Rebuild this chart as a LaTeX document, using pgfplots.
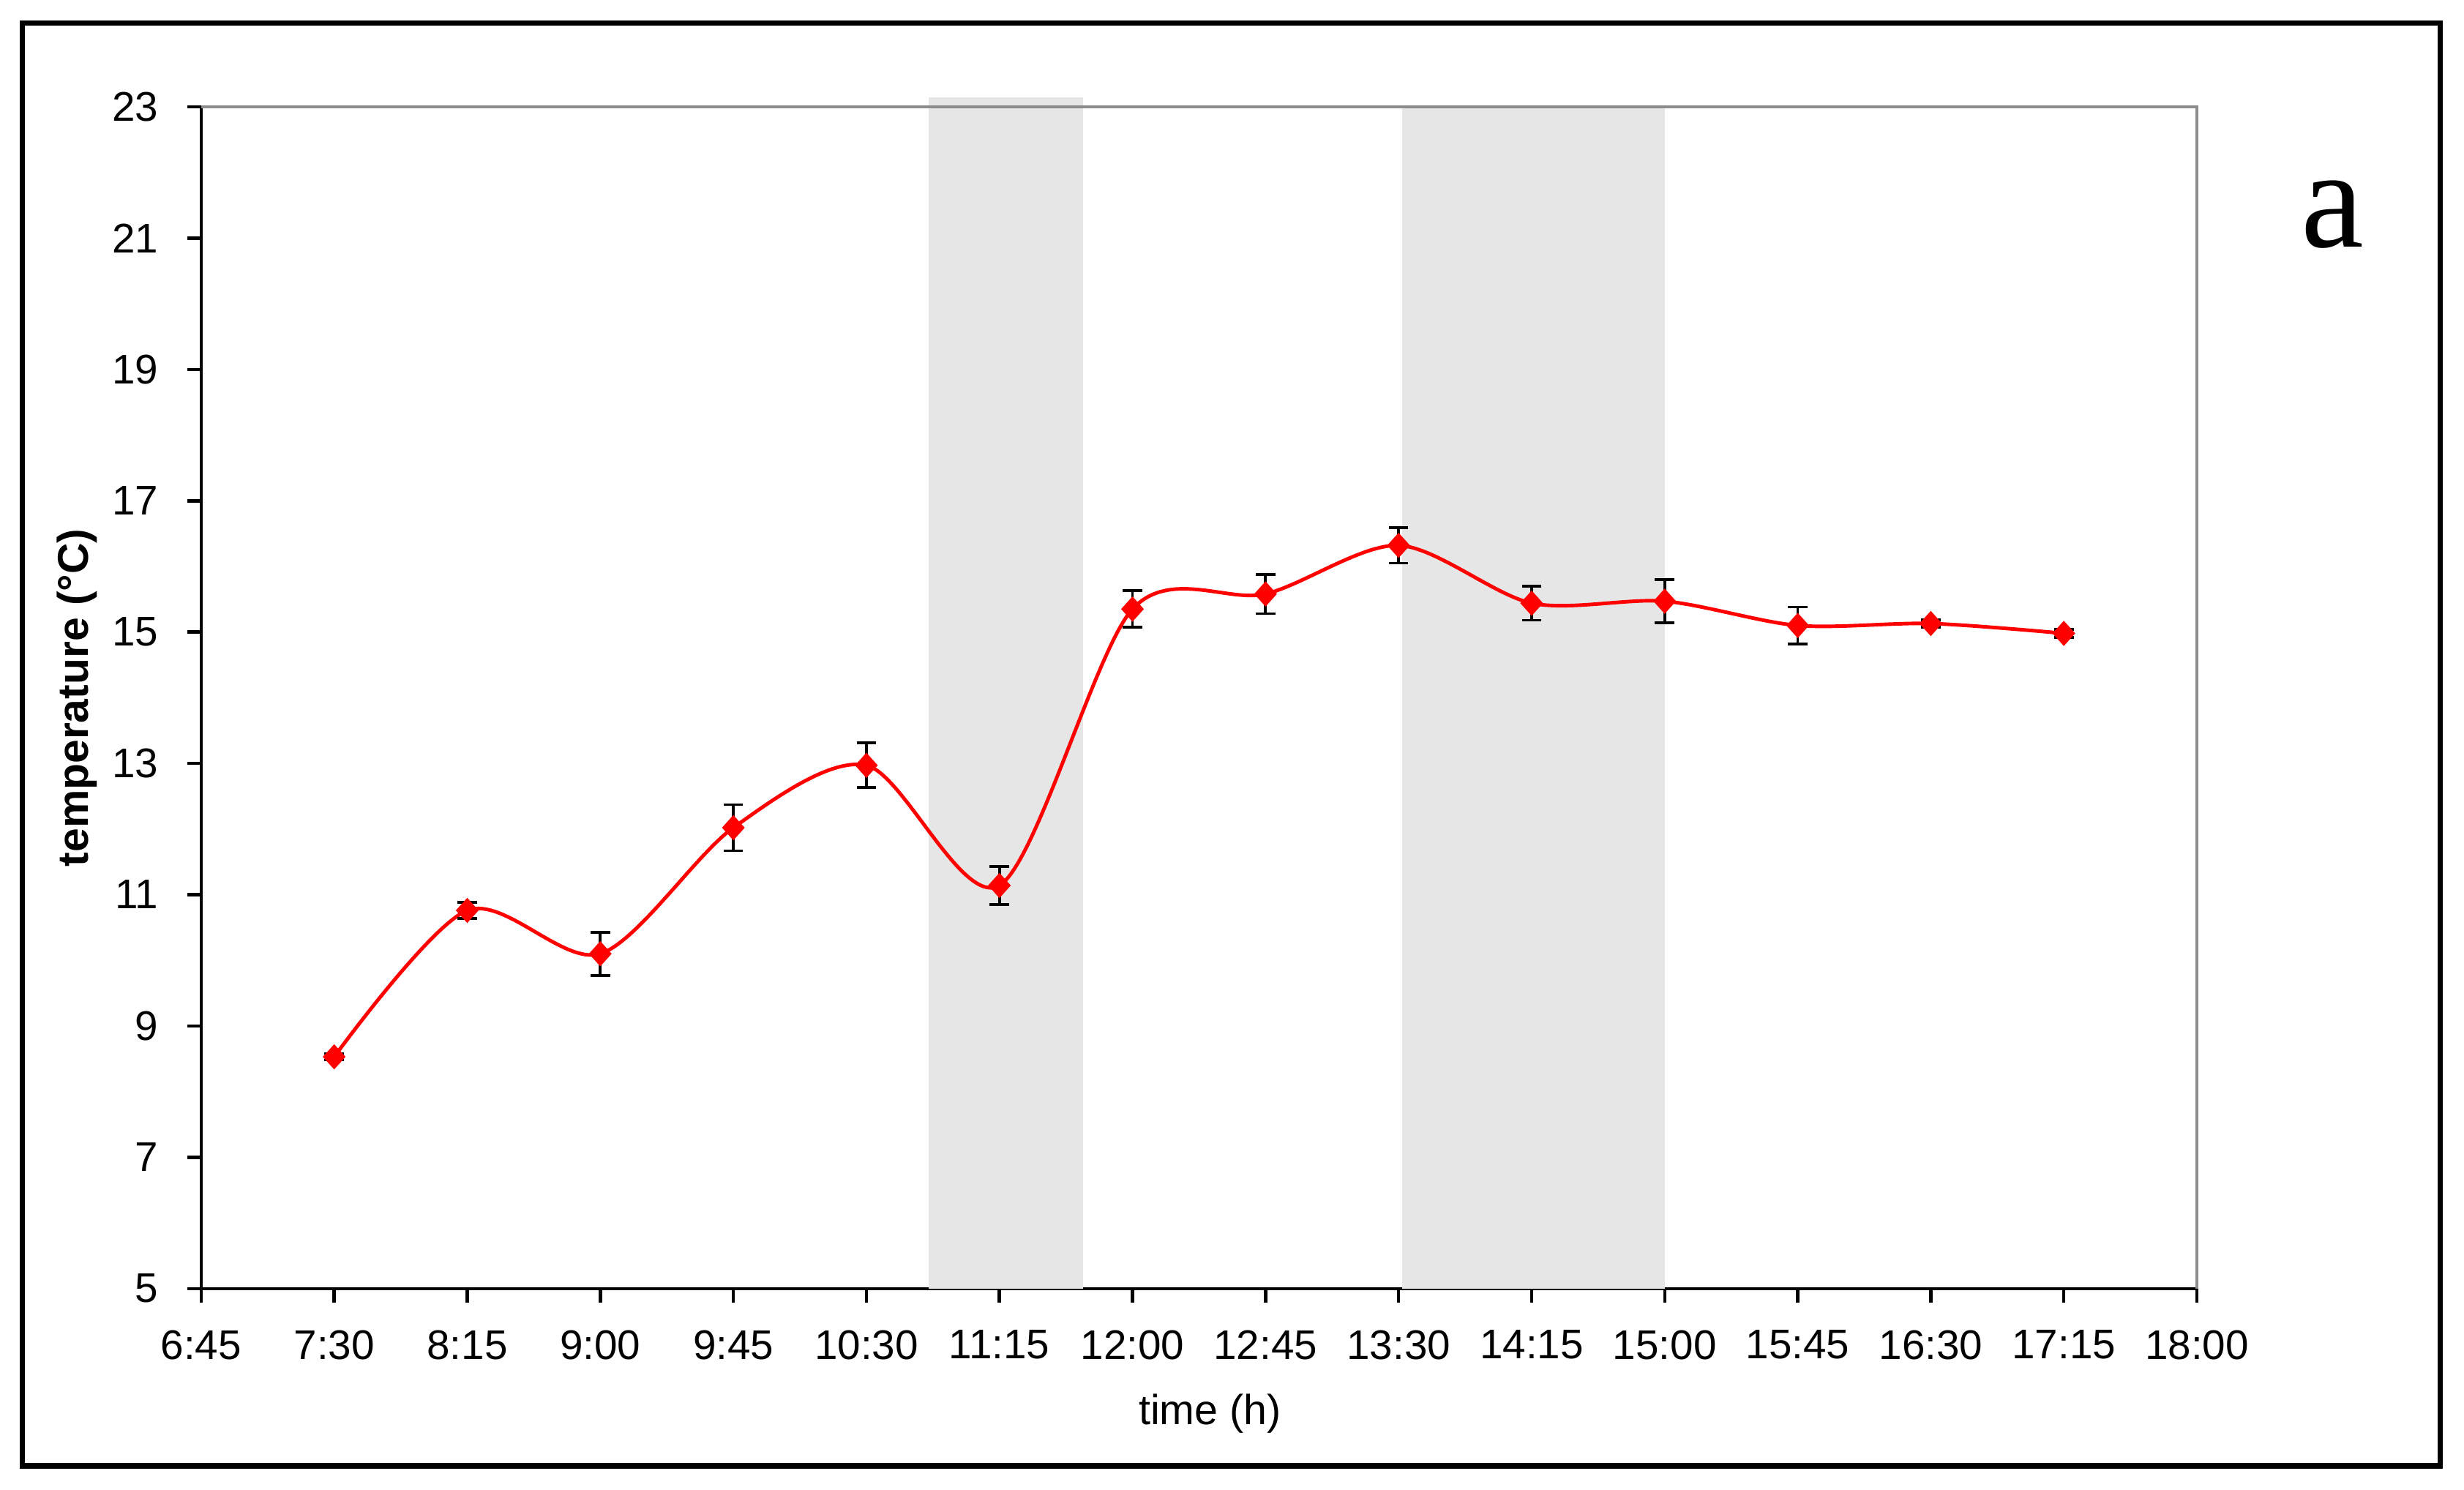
\documentclass[border=0pt]{standalone}
\usepackage{fontspec}
\setmainfont{Liberation Sans}
\newfontfamily\timesfont{Liberation Serif}
\usepackage{pgfplots}
\pgfplotsset{compat=1.18}
\definecolor{band}{HTML}{E6E6E6}
\definecolor{boxgray}{HTML}{8C8C8C}

% time (h, decimal), mean temperature, error
\pgfplotstableread{
t      T      e
7.50   8.53   0.05
8.25   10.76  0.12
9.00   10.10  0.33
9.75   12.02  0.35
10.50  12.97  0.34
11.25  11.14  0.29
12.00  15.35  0.28
12.75  15.58  0.30
13.50  16.32  0.27
14.25  15.44  0.26
15.00  15.47  0.33
15.75  15.10  0.28
16.50  15.13  0.06
17.25  14.98  0.06
}\temps

\begin{document}
\begin{tikzpicture}
\begin{axis}[
  width=12.70cm, height=7.52cm, scale only axis,
  xmin=6.75, xmax=18, ymin=5, ymax=23,
  clip=false,
  axis x line*=bottom, axis y line*=left,
  axis line style={black, line width=0.6pt},
  tick align=outside, major tick length=0.09cm,
  tick style={black, line width=0.6pt},
  ytick={5,7,...,23},
  xtick={6.75,7.5,8.25,9,9.75,10.5,11.25,12,12.75,13.5,14.25,15,15.75,16.5,17.25,18},
  xticklabels={6:45,7:30,8:15,9:00,9:45,10:30,11:15,12:00,12:45,13:30,14:15,15:00,15:45,16:30,17:15,18:00},
  tick label style={font=\fontsize{7.5}{9}\selectfont},
  /pgf/number format/assume math mode=true,
  yticklabel style={xshift=-0.06cm},
  xticklabel style={yshift=-0.05cm},
  xlabel={time (h)},
  ylabel={temperature (°C)},
  every axis x label/.style={at={(rel axis cs:0.5,0)}, anchor=base,
    yshift=-0.866cm, xshift=0.07cm, font=\fontsize{7.6}{9}\selectfont},
  every axis y label/.style={at={(axis description cs:-0.0567,0.5)}, rotate=90, anchor=base,
    font=\fontsize{7.8}{9}\selectfont\bfseries},
]
% shaded periods
\addplot[fill=band, draw=none] coordinates {(10.85,5) (11.72,5) (11.72,23.15) (10.85,23.15)} -- cycle;
\addplot[fill=band, draw=none] coordinates {(13.52,5) (15.0,5) (15.0,23) (13.52,23)} -- cycle;

\addplot[red, line width=0.65pt, smooth,
  mark=diamond*, mark size=1.8pt, mark options={fill=red, draw=red, xscale=1.2},
  error bars/.cd, y dir=both, y explicit,
  error bar style={black, line width=0.5pt},
  error mark options={black, rotate=90, line width=0.5pt, mark size=0.062cm}]
  table[x=t, y=T, y error=e] {\temps};

\draw[boxgray, line width=0.6pt] (rel axis cs:0,1) -- (rel axis cs:1,1) -- (rel axis cs:1,0);
\end{axis}
\draw[line width=1pt] (-1.137,-1.127) rectangle (14.249,8.054);
\node[font=\timesfont\fontsize{25.6}{30}\selectfont, anchor=base, inner sep=0pt] at (13.565,6.63) {a};
\pgfresetboundingbox
\path (-1.28,-1.28) rectangle (14.40,8.20);
\end{tikzpicture}
\end{document}
